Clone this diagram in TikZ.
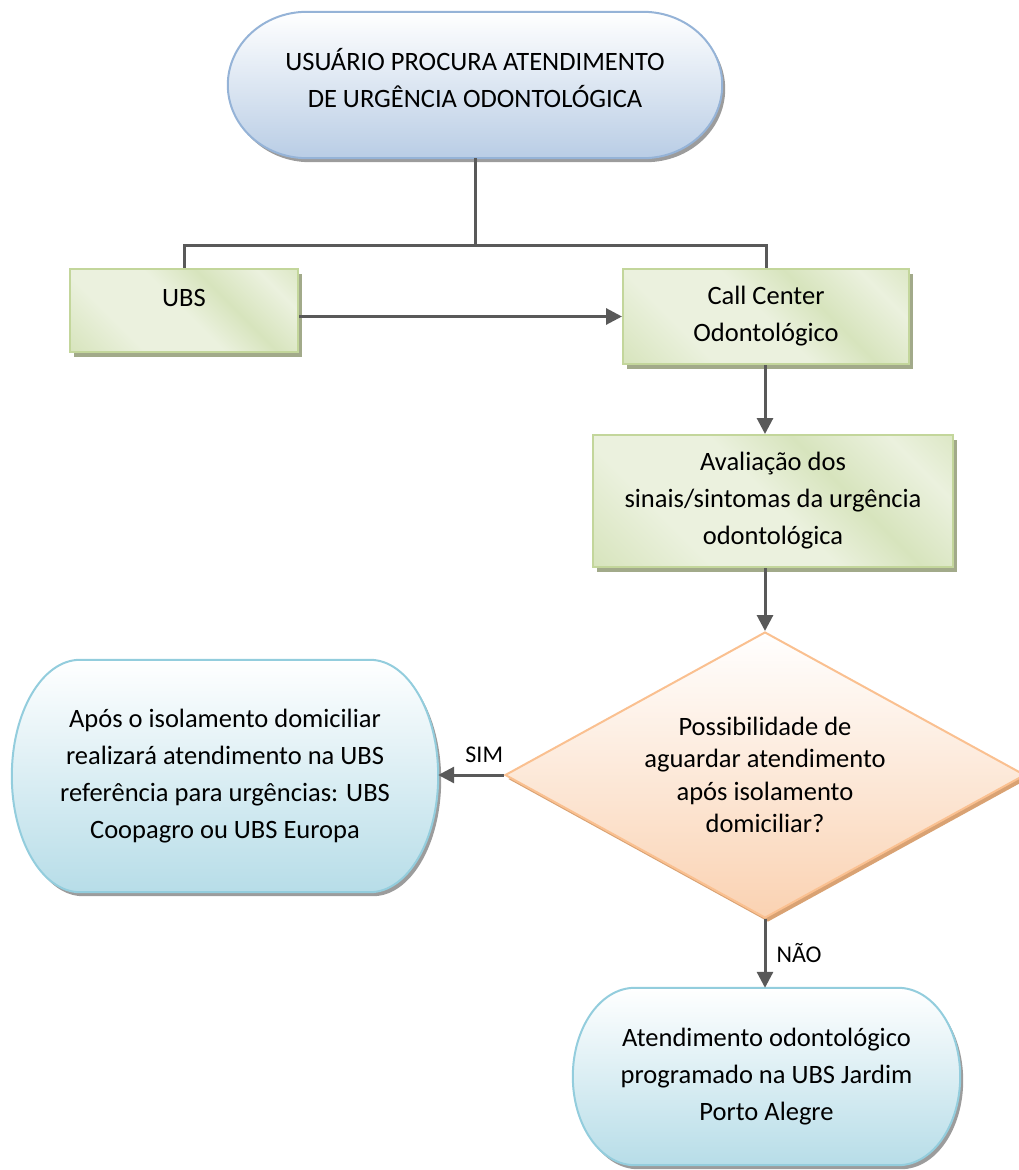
\documentclass[tikz,border=0pt]{standalone}
\usepackage{fontspec}
\setmainfont{Carlito}
\usepackage{tikz}
\usetikzlibrary{arrows.meta,shapes.geometric,shadows,backgrounds,calc,positioning}

\definecolor{lineg}{HTML}{595959}
\definecolor{blueedge}{HTML}{95B3D7}
\definecolor{bluefill}{HTML}{B9CDE5}
\definecolor{cyanedge}{HTML}{93CDDD}
\definecolor{cyanfill}{HTML}{B7DDE8}
\definecolor{grnedge}{HTML}{C3D69B}
\definecolor{grnlight}{HTML}{EBF1DE}
\definecolor{grnmid}{HTML}{D7E4BD}
\definecolor{grndark}{HTML}{C6D9A0}
\definecolor{grnshadow}{HTML}{A2AA8A}
\definecolor{orgedge}{HTML}{FAC090}
\definecolor{orgfill}{HTML}{FAD2B2}
\definecolor{orgshadow}{HTML}{D9A273}
\definecolor{termshadow}{HTML}{9C9C9C}

\pgfdeclarehorizontalshading{greenshade}{100bp}{color(0bp)=(grndark); color(32bp)=(grnlight); color(50bp)=(grnlight); color(62bp)=(grnmid); color(76bp)=(grnlight); color(100bp)=(grndark)}

% terminator outline, elliptic ends
\newcommand\termpath[1]{let \p1=(#1.north west), \p2=(#1.south east), \n1={0.16*(\x2-\x1)}, \n2={0.5*(\y1-\y2)} in ([xshift=\n1]#1.north west) -- ([xshift=-\n1]#1.north east) arc[start angle=90, end angle=-90, x radius=\n1, y radius=\n2] -- ([xshift=\n1]#1.south west) arc[start angle=270, end angle=90, x radius=\n1, y radius=\n2] -- cycle}

\begin{document}
\begin{tikzpicture}[x=1pt,y=-1pt,>={Triangle[width=16pt,length=16pt]},
every node/.style={font=\fontsize{26.5}{37}\selectfont, align=center, inner sep=0pt},
term/.style={rectangle},
greenbox/.style={rectangle, draw=grnedge, line width=2pt, shade, shading=greenshade, shading angle=45,
  drop shadow={shadow xshift=4pt, shadow yshift=-5pt, fill=grnshadow, opacity=1}},
decision/.style={diamond, aspect=1.8, draw=orgedge, line width=2pt, top color=white, bottom color=orgfill,
  drop shadow={shadow xshift=3pt, shadow yshift=-4pt, fill=orgshadow, opacity=1},
  font=\fontsize{26.5}{32.5}\selectfont},
flowline/.style={draw=lineg, line width=3pt},
lbl/.style={font=\fontsize{24}{28}\selectfont, inner sep=2pt}]
\useasboundingbox (0,0) rectangle (1019,1170);

\node[term, minimum width=494pt, minimum height=146pt,
  label={[name=start-txt, yshift=6.5pt]center:{USUÁRIO PROCURA ATENDIMENTO\\DE URGÊNCIA ODONTOLÓGICA}}] (start) at (475,85) {};
\node[greenbox, minimum width=228pt, minimum height=83pt,
  label={[name=ubs-txt, yshift=12.5pt]center:UBS}] (ubs) at (184,310.5) {};
\node[greenbox, minimum width=286pt, minimum height=95pt] (callc) at (766,316.5) {Call Center\\Odontológico};
\node[greenbox, minimum width=360pt, minimum height=132pt] (aval) at (773,501) {Avaliação dos\\sinais/sintomas da urgência\\odontológica};
\node[decision, minimum width=520pt, minimum height=286pt] (decide) at (765,775) {Possibilidade de\\aguardar atendimento\\após isolamento\\domiciliar?};
\node[term, minimum width=426pt, minimum height=232pt] (coop) at (225,776) {Após o isolamento domiciliar\\realizará atendimento na UBS\\referência para urgências: UBS\\Coopagro ou UBS Europa};
\node[term, minimum width=387pt, minimum height=177pt] (prog) at (766.5,1076.5) {Atendimento odontológico\\programado na UBS Jardim\\Porto Alegre};
\coordinate (split) at (475,245);

\begin{scope}[on background layer]
\foreach \t/\e/\f in {start/blueedge/bluefill, coop/cyanedge/cyanfill, prog/cyanedge/cyanfill}{
  \fill[termshadow, transform canvas={shift={(3pt,-4pt)}}] \termpath{\t};
  \shade[top color=white, bottom color=\f, draw=\e, line width=2pt] \termpath{\t};
}
\end{scope}

\begin{scope}[flowline]
\draw (start.south) -- (split);
\draw (split) -| (ubs.north);
\draw (split) -| (callc.north);
\draw[->] (ubs.east |- callc.west) -- (callc.west);
\draw[->] (callc.south -| decide.north) -- (aval.north -| decide.north);
\draw[->] (aval.south -| decide.north) -- (decide.north);
\draw[->] (decide.west) -- (decide.west -| coop.east) node[lbl, pos=.3, above=9pt] (sim) {SIM};
\draw[->] (decide.south) -- (decide.south |- prog.north) node[lbl, midway, right=8pt] (nao) {NÃO};
\end{scope}
\end{tikzpicture}
\end{document}
